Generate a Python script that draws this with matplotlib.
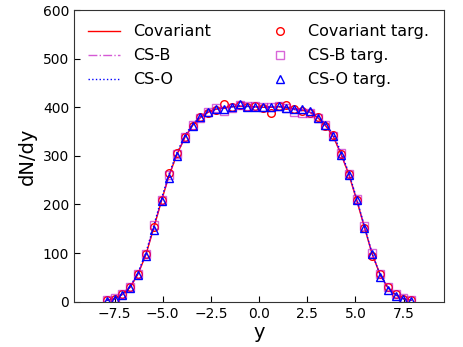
import numpy as np
import matplotlib
matplotlib.use('Agg')
import matplotlib.pyplot as plt

# 快度 bin 中心
rapidity = [-7.9, -7.49, -7.09, -6.68, -6.28, -5.87, -5.47, -5.06, -4.66, -4.25,
            -3.85, -3.44, -3.04, -2.63, -2.23, -1.82, -1.42, -1.01, -0.61, -0.2,
            0.2, 0.61, 1.01, 1.42, 1.82, 2.23, 2.63, 3.04, 3.44, 3.85,
            4.25, 4.66, 5.06, 5.47, 5.87, 6.28, 6.68, 7.09, 7.49, 7.9]

# 曲线
cov_line = [3, 6, 15, 30, 57, 97, 151, 208, 261, 304, 338, 363, 379, 390, 396, 399, 401, 402, 402, 401,
            400, 400, 401, 400, 397, 394, 390, 379, 363, 340, 304, 262, 210, 153, 98, 56, 29, 14, 6, 3]
csb_line = [3, 6, 15, 31, 58, 98, 153, 209, 261, 304, 338, 363, 379, 391, 397, 398, 401, 403, 402, 401,
            400, 401, 401, 399, 395, 392, 390, 378, 362, 340, 305, 262, 211, 154, 99, 57, 30, 15, 6, 3]
cso_line = [3, 6, 16, 32, 60, 101, 156, 213, 264, 308, 342, 366, 381, 392, 397, 399, 401, 403, 401, 400,
            400, 401, 402, 399, 396, 394, 392, 382, 366, 345, 308, 265, 213, 155, 99, 56, 29, 14, 6, 3]

# 目标点
cov_targ = [3, 6, 16, 30, 58, 98, 153, 210, 264, 306, 339, 362, 380, 389, 394, 406, 401, 404, 400, 402,
            398, 389, 402, 405, 397, 393, 389, 380, 362, 342, 303, 263, 209, 152, 95, 56, 30, 15, 6, 3]
csb_targ = [3, 7, 16, 31, 58, 99, 157, 210, 260, 303, 338, 364, 378, 391, 398, 393, 399, 405, 403, 403,
            400, 401, 403, 398, 391, 389, 389, 378, 363, 340, 305, 263, 211, 155, 100, 58, 31, 15, 7, 3]
cso_targ = [2, 5, 14, 29, 55, 94, 148, 207, 255, 300, 336, 362, 379, 391, 397, 396, 400, 407, 400, 400,
            400, 400, 403, 398, 396, 396, 393, 377, 363, 341, 302, 260, 210, 151, 98, 50, 25, 12, 5, 2]

plt.rcParams['font.family'] = ['DejaVu Sans']

fig = plt.figure(figsize=(4.63, 3.47), dpi=100)
ax = fig.add_axes([0.160, 0.1305, 0.799, 0.8405])

ax.plot(rapidity, cov_line, color='red', linestyle='-', linewidth=1.0, label='Covariant')
ax.plot(rapidity, csb_line, color='m', linestyle='-.', linewidth=1.0, alpha=0.65, label='CS-B')
ax.plot(rapidity, cso_line, color='blue', linestyle=':', linewidth=1.0, label='CS-O')

ax.plot(rapidity, cov_targ, linestyle='none', marker='o', markersize=5.5, markerfacecolor='none',
        markeredgecolor='red', markeredgewidth=1.0, label='Covariant targ.')
ax.plot(rapidity, csb_targ, linestyle='none', marker='s', markersize=5.5, markerfacecolor='none',
        markeredgecolor='m', alpha=0.6, markeredgewidth=1.0, label='CS-B targ.')
ax.plot(rapidity, cso_targ, linestyle='none', marker='^', markersize=5.5, markerfacecolor='none',
        markeredgecolor='blue', markeredgewidth=1.0, label='CS-O targ.')

ax.set_xlim(-9.6, 9.6)
ax.set_ylim(0, 600)
ax.set_xticks([-7.5, -5.0, -2.5, 0.0, 2.5, 5.0, 7.5])
ax.set_yticks([0, 100, 200, 300, 400, 500, 600])
ax.tick_params(direction='in', labelsize=10, length=4)
for sp in ax.spines.values():
    sp.set_color('#333333')

ax.set_xlabel('y', fontsize=14, labelpad=2)
ax.set_ylabel('dN/dy', fontsize=14)

ax.legend(loc='upper left', ncol=2, frameon=False, fontsize=11.5, labelspacing=0.56,
          columnspacing=3.3, handlelength=2.0)

plt.savefig('out.png', dpi=100, facecolor='white')
plt.close()
